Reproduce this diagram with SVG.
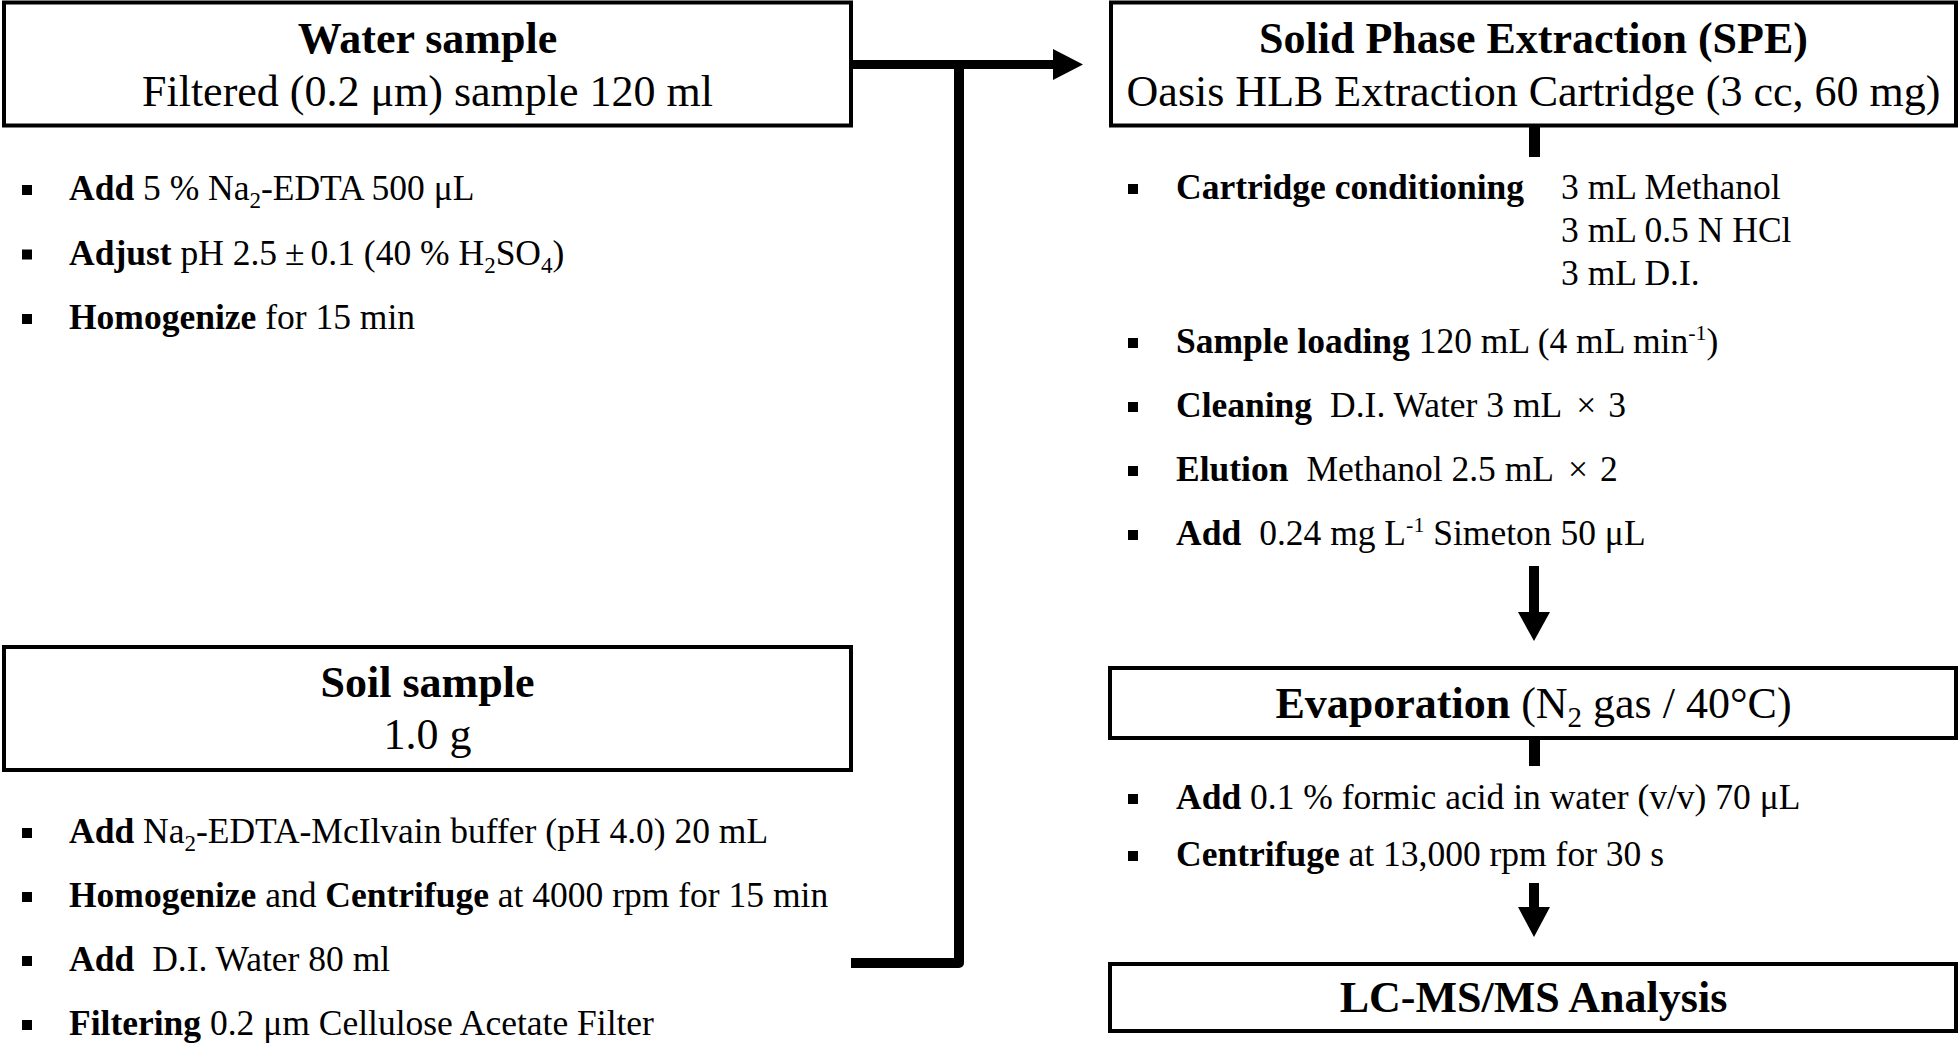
<svg xmlns="http://www.w3.org/2000/svg" width="1960" height="1045" viewBox="0 0 1960 1045">
<style>
text{font-family:"Liberation Serif","Times New Roman",serif;fill:#000}
.box{fill:#fff;stroke:#000;stroke-width:4}
.ttl{font-size:44px;text-anchor:middle}
.b{font-weight:bold}
.it{font-size:35.5px}
.bul{fill:#000}
.ln{fill:none;stroke:#000}
</style>
<rect width="1960" height="1045" fill="#fff"/>
<g id="connectors">
  <line class="ln" x1="853" y1="64.5" x2="1055" y2="64.5" stroke-width="9"/>
  <polygon points="1053,49 1083,64.5 1053,80" fill="#000"/>
  <polyline class="ln" points="851,963 959,963 959,64" stroke-width="10" stroke-linejoin="round"/>
  <line class="ln" x1="1534.5" y1="126" x2="1534.5" y2="157" stroke-width="11"/>
  <line class="ln" x1="1534" y1="566" x2="1534" y2="614" stroke-width="10"/>
  <polygon points="1518,612 1550,612 1534,641" fill="#000"/>
  <line class="ln" x1="1534.5" y1="739" x2="1534.5" y2="766" stroke-width="11"/>
  <line class="ln" x1="1534" y1="883" x2="1534" y2="909" stroke-width="10"/>
  <polygon points="1518,907 1550,907 1534,937" fill="#000"/>
</g>
<g id="water">
  <rect class="box" x="4" y="2.5" width="847" height="123"/>
  <text class="ttl b" x="427.5" y="53">Water sample</text>
  <text class="ttl" x="427.5" y="106">Filtered (0.2 μm) sample 120 ml</text>
  <rect class="bul" x="22" y="185" width="10" height="10"/>
  <text class="it" x="69" y="200"><tspan class="b">Add</tspan> 5 % Na<tspan font-size="23" dy="8">2</tspan><tspan dy="-8">-EDTA 500 μL</tspan></text>
  <rect class="bul" x="22" y="249.5" width="10" height="10"/>
  <text class="it" x="69" y="264.5"><tspan class="b">Adjust</tspan> pH 2.5<tspan dx="8">±</tspan><tspan dx="6">0.1 (40 % H</tspan><tspan font-size="23" dy="8">2</tspan><tspan dy="-8">SO</tspan><tspan font-size="23" dy="8">4</tspan><tspan dy="-8">)</tspan></text>
  <rect class="bul" x="22" y="314" width="10" height="10"/>
  <text class="it" x="69" y="329"><tspan class="b">Homogenize</tspan> for 15 min</text>
</g>
<g id="soil">
  <rect class="box" x="4" y="647" width="847" height="123"/>
  <text class="ttl b" x="427.5" y="697">Soil sample</text>
  <text class="ttl" x="427.5" y="749">1.0 g</text>
  <rect class="bul" x="22" y="828" width="10" height="10"/>
  <text class="it" x="69" y="843"><tspan class="b">Add</tspan> Na<tspan font-size="23" dy="8">2</tspan><tspan dy="-8">-EDTA-McIlvain buffer (pH 4.0) 20 mL</tspan></text>
  <rect class="bul" x="22" y="892" width="10" height="10"/>
  <text class="it" x="69" y="907"><tspan class="b">Homogenize</tspan> and <tspan class="b">Centrifuge</tspan> at 4000 rpm for 15 min</text>
  <rect class="bul" x="22" y="956" width="10" height="10"/>
  <text class="it" x="69" y="971"><tspan class="b">Add</tspan><tspan dx="18">D.I. Water 80 ml</tspan></text>
  <rect class="bul" x="22" y="1020" width="10" height="10"/>
  <text class="it" x="69" y="1035"><tspan class="b">Filtering</tspan> 0.2 μm Cellulose Acetate Filter</text>
</g>
<g id="spe">
  <rect class="box" x="1111" y="2.5" width="845" height="123"/>
  <text class="ttl b" x="1533.5" y="53">Solid Phase Extraction (SPE)</text>
  <text class="ttl" x="1533.5" y="106">Oasis HLB Extraction Cartridge (3 cc, 60 mg)</text>
  <rect class="bul" x="1128" y="184" width="10" height="10"/>
  <text class="it b" x="1176" y="199">Cartridge conditioning</text>
  <text class="it" x="1561" y="199">3 mL Methanol</text>
  <text class="it" x="1561" y="242">3 mL 0.5 N HCl</text>
  <text class="it" x="1561" y="285">3 mL D.I.</text>
  <rect class="bul" x="1128" y="338" width="10" height="10"/>
  <text class="it" x="1176" y="353"><tspan class="b">Sample loading</tspan> 120 mL (4 mL min<tspan font-size="22" dy="-13">-1</tspan><tspan dy="13">)</tspan></text>
  <rect class="bul" x="1128" y="402" width="10" height="10"/>
  <text class="it" x="1176" y="417"><tspan class="b">Cleaning</tspan><tspan dx="18">D.I. Water 3 mL</tspan><tspan dx="14">×</tspan><tspan dx="12">3</tspan></text>
  <rect class="bul" x="1128" y="466" width="10" height="10"/>
  <text class="it" x="1176" y="481"><tspan class="b">Elution</tspan><tspan dx="18">Methanol 2.5 mL</tspan><tspan dx="14">×</tspan><tspan dx="12">2</tspan></text>
  <rect class="bul" x="1128" y="530" width="10" height="10"/>
  <text class="it" x="1176" y="545"><tspan class="b">Add</tspan><tspan dx="18">0.24 mg L</tspan><tspan font-size="22" dy="-13">-1</tspan><tspan dy="13"> Simeton 50 μL</tspan></text>
</g>
<g id="evaporation">
  <rect class="box" x="1110" y="668" width="846" height="70"/>
  <text class="ttl" x="1533.5" y="718"><tspan class="b">Evaporation</tspan> (N<tspan font-size="29" dy="9">2</tspan><tspan dy="-9"> gas / 40°C)</tspan></text>
  <rect class="bul" x="1128" y="794" width="10" height="10"/>
  <text class="it" x="1176" y="809"><tspan class="b">Add</tspan> 0.1 % formic acid in water (v/v) 70 μL</text>
  <rect class="bul" x="1128" y="851" width="10" height="10"/>
  <text class="it" x="1176" y="866"><tspan class="b">Centrifuge</tspan> at 13,000 rpm for 30 s</text>
</g>
<g id="lcms">
  <rect class="box" x="1110" y="964" width="846" height="67"/>
  <text class="ttl b" x="1533.5" y="1012">LC-MS/MS Analysis</text>
</g>
</svg>
